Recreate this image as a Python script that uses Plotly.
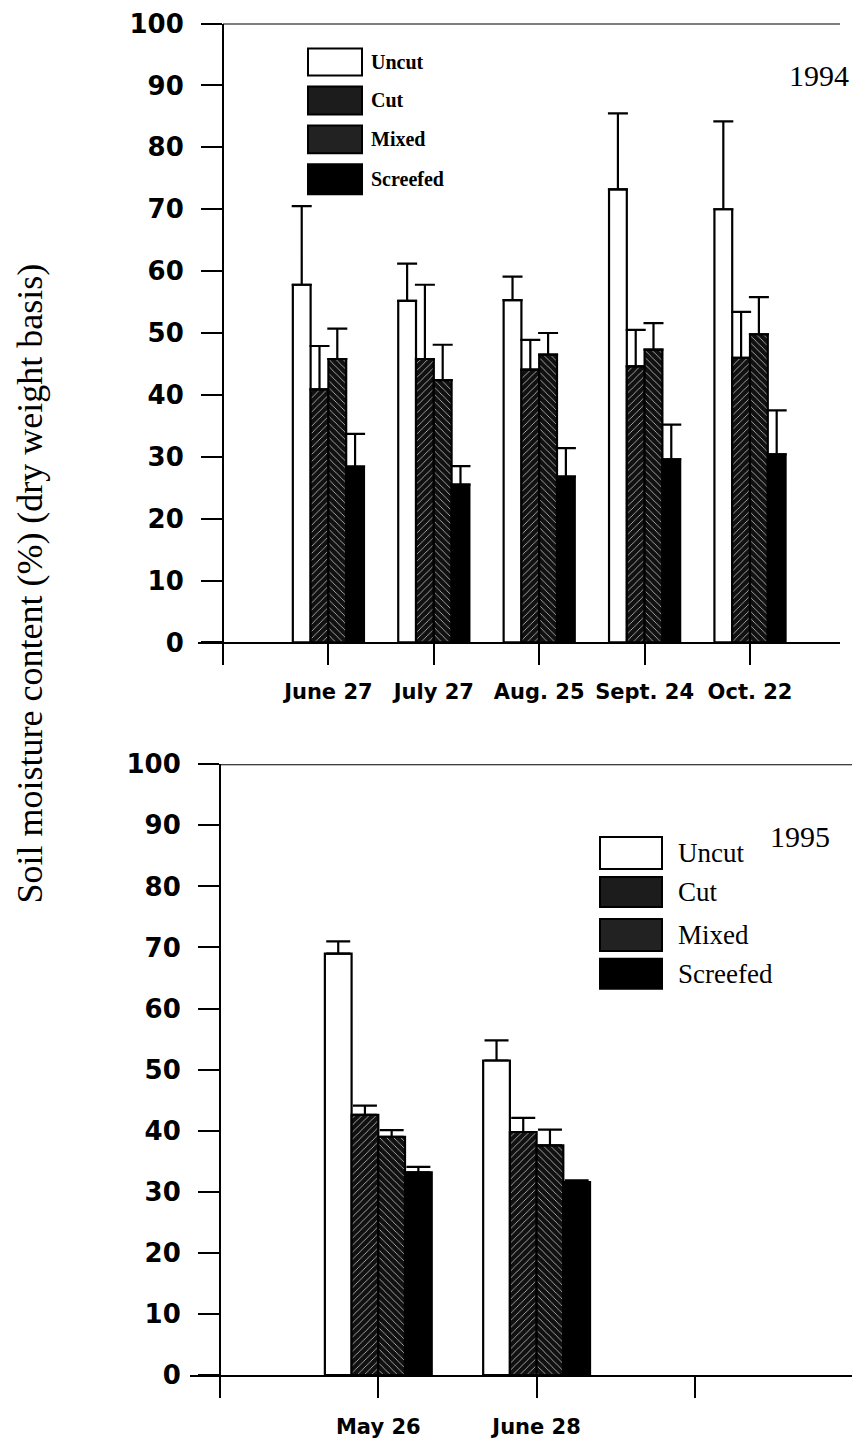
import plotly.graph_objects as go

# ---------------- data ----------------
dates_1994 = ["June 27", "July 27", "Aug. 25", "Sept. 24", "Oct. 22"]
uncut_1994 = [57.8, 55.2, 55.3, 73.2, 70.0]
uncut_err_1994 = [12.7, 6.0, 3.8, 12.3, 14.2]
cut_1994 = [40.9, 45.8, 44.1, 44.6, 46.0]
cut_err_1994 = [7.0, 12.0, 4.8, 5.9, 7.4]
mixed_1994 = [45.8, 42.4, 46.5, 47.3, 49.8]
mixed_err_1994 = [4.9, 5.7, 3.5, 4.3, 6.0]
screefed_1994 = [28.4, 25.5, 26.8, 29.6, 30.4]
screefed_err_1994 = [5.3, 3.0, 4.6, 5.6, 7.1]

dates_1995 = ["May 26", "June 28"]
uncut_1995 = [69.0, 51.5]
uncut_err_1995 = [2.0, 3.3]
cut_1995 = [42.6, 39.8]
cut_err_1995 = [1.5, 2.3]
mixed_1995 = [39.0, 37.6]
mixed_err_1995 = [1.1, 2.6]
screefed_1995 = [33.2, 31.6]
screefed_err_1995 = [0.9, 0.3]

treatments = ["Uncut", "Cut", "Mixed", "Screefed"]
y_ticks = list(range(0, 101, 10))

W, H = 852, 1443
# the captured page is slightly taller than the figure; compensate vertically
V_SCALE, V_OFF = 0.981, 14.4

def px(x):
    return x / W

def py(y):
    return 1 - ((y - V_OFF) / V_SCALE) / H

styles = {
    "Uncut": dict(color="white", pattern=None),
    "Cut": dict(color="#111111", pattern=dict(shape="/", fillmode="replace", bgcolor="#111111",
                                              fgcolor="white", size=5, solidity=0.12)),
    "Mixed": dict(color="#111111", pattern=dict(shape="\\", fillmode="replace", bgcolor="#111111",
                                                fgcolor="white", size=5, solidity=0.12)),
    "Screefed": dict(color="black", pattern=None),
}

fig = go.Figure()

def add_group(xpos, series, errs, xa, ya, capw):
    for name, vals, err in zip(treatments, series, errs):
        st = styles[name]
        marker = dict(color=st["color"], line=dict(color="black", width=2.2))
        if st["pattern"]:
            marker["pattern"] = st["pattern"]
        fig.add_trace(go.Bar(
            x=xpos, y=vals, name=name, marker=marker, showlegend=False,
            xaxis=xa, yaxis=ya,
            error_y=dict(type="data", symmetric=False, array=err,
                         arrayminus=[0] * len(err), color="black",
                         thickness=2.2, width=capw),
        ))

x94 = list(range(1, len(dates_1994) + 1))
x95 = list(range(1, len(dates_1995) + 1))

add_group(x94, [uncut_1994, cut_1994, mixed_1994, screefed_1994],
          [uncut_err_1994, cut_err_1994, mixed_err_1994, screefed_err_1994], "x", "y", 10)
add_group(x95, [uncut_1995, cut_1995, mixed_1995, screefed_1995],
          [uncut_err_1995, cut_err_1995, mixed_err_1995, screefed_err_1995], "x2", "y2", 12)

tickfont = dict(family="DejaVu Sans", size=26, color="black", weight="bold")
xtickfont = dict(family="DejaVu Sans", size=21, color="black", weight="bold")

# top panel geometry (pixels)
top_y0, top_y100 = 643, 23
top_xl, top_xr = 198, 840
top_yaxis_x = 223
top_unit = 105.4
# bottom panel geometry
bot_y0, bot_y100 = 1377, 765
bot_xl, bot_xr = 190, 852
bot_yaxis_x = 220
bot_unit = 158.3

common_x = dict(showline=True, linecolor="black", linewidth=2,
                ticks="outside", ticklen=21, tickwidth=2, tickcolor="black",
                showgrid=False, zeroline=False, tickfont=xtickfont)
common_y = dict(range=[0, 100], tickvals=y_ticks, anchor="free",
                showline=True, linecolor="black", linewidth=2,
                ticks="outside", ticklen=21, tickwidth=2, tickcolor="black",
                showgrid=False, zeroline=False, tickfont=tickfont, ticklabelstandoff=12)

fig.update_layout(
    width=W, height=H, margin=dict(l=0, r=0, t=0, b=0),
    paper_bgcolor="white", plot_bgcolor="white",
    barmode="group", bargap=0.325, bargroupgap=0,
    xaxis=dict(domain=[px(top_xl), px(top_xr)],
               range=[(top_xl - top_yaxis_x) / top_unit, (top_xr - top_yaxis_x) / top_unit],
               tickvals=[0] + x94, ticktext=[""] + dates_1994, anchor="y",
               ticklabelstandoff=8, **common_x),
    yaxis=dict(domain=[py(top_y0), py(top_y100)], position=px(top_yaxis_x), **common_y),
    xaxis2=dict(domain=[px(bot_xl), px(bot_xr)],
                range=[(bot_xl - bot_yaxis_x) / bot_unit, (bot_xr - bot_yaxis_x) / bot_unit],
                tickvals=[0] + x95 + [len(x95) + 1], ticktext=[""] + dates_1995 + [""],
                anchor="y2", ticklabelstandoff=11, **common_x),
    yaxis2=dict(domain=[py(bot_y0), py(bot_y100)], position=px(bot_yaxis_x), **common_y),
)

shapes = []
# top frame lines
shapes.append(dict(type="line", xref="paper", yref="y", x0=px(top_yaxis_x), x1=px(top_xr),
                   y0=100, y1=100, line=dict(color="black", width=2)))
shapes.append(dict(type="line", xref="paper", yref="y2", x0=px(bot_yaxis_x), x1=px(bot_xr),
                   y0=100, y1=100, line=dict(color="black", width=2)))

annotations = []
legend_fills = {"Uncut": "white", "Cut": "#1c1c1c", "Mixed": "#222222", "Screefed": "black"}

def add_legend(x0, x1, rows, text_x, font):
    for name, (y0, y1) in zip(treatments, rows):
        shapes.append(dict(type="rect", xref="paper", yref="paper",
                           x0=px(x0), x1=px(x1), y0=py(y1), y1=py(y0),
                           fillcolor=legend_fills[name], line=dict(color="black", width=2)))
        annotations.append(dict(text=name, xref="paper", yref="paper", x=px(text_x),
                                y=py((y0 + y1) / 2), xanchor="left", yanchor="middle",
                                showarrow=False, font=font))

add_legend(308, 362, [(48, 75), (86, 114), (125, 153), (164, 194)], 369,
           dict(family="Liberation Serif, Times New Roman", size=20, color="black", weight="bold"))
add_legend(600, 662, [(838, 870), (878, 908), (920, 952), (960, 990)], 676,
           dict(family="Liberation Serif, Times New Roman", size=27, color="black"))

annotations.append(dict(text="1994", xref="paper", yref="paper", x=px(819), y=py(75),
                        xanchor="center", yanchor="middle", showarrow=False,
                        font=dict(family="Liberation Serif, Times New Roman", size=30, color="black")))
annotations.append(dict(text="1995", xref="paper", yref="paper", x=px(800), y=py(837),
                        xanchor="center", yanchor="middle", showarrow=False,
                        font=dict(family="Liberation Serif, Times New Roman", size=30, color="black")))
annotations.append(dict(text="Soil moisture content (%) (dry weight basis)", xref="paper", yref="paper",
                        x=px(30), y=py(584), xanchor="center", yanchor="middle", textangle=-90,
                        showarrow=False,
                        font=dict(family="Liberation Serif, Times New Roman", size=36, color="black")))

fig.update_layout(shapes=shapes, annotations=annotations)
fig.write_html("out.html")
